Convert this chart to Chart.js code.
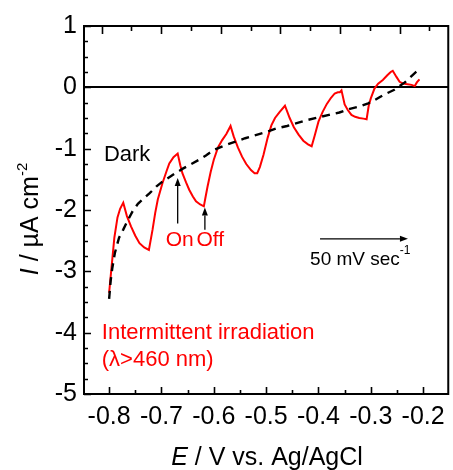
<!DOCTYPE html>
<html>
<head>
<meta charset="utf-8">
<style>
  html, body { margin: 0; padding: 0; background: #fff; }
  #wrap { width: 453px; height: 470px; }
</style>
</head>
<body>
<div id="wrap"><canvas id="cv" width="453" height="470"></canvas></div>
<script src="https://cdn.jsdelivr.net/npm/chart.js@4.4.1/dist/chart.umd.min.js"></script>
<script>
// dark scan (dashed black)
const darkE = [-0.800, -0.797, -0.794, -0.789, -0.781, -0.773, -0.765, -0.755, -0.745, -0.735, -0.723, -0.710,
  -0.700, -0.691, -0.675, -0.660, -0.645, -0.628, -0.615, -0.600, -0.580, -0.560, -0.540, -0.520, -0.500,
  -0.480, -0.460, -0.440, -0.420, -0.400, -0.380, -0.360, -0.340, -0.320, -0.305, -0.295, -0.285, -0.275,
  -0.265, -0.255, -0.245, -0.235, -0.225, -0.215, -0.207];
const darkI = [-3.45, -3.15, -2.95, -2.70, -2.45, -2.32, -2.18, -2.02, -1.90, -1.82, -1.73, -1.62,
  -1.55, -1.50, -1.41, -1.33, -1.26, -1.18, -1.11, -1.02, -0.95, -0.89, -0.83, -0.78, -0.73,
  -0.67, -0.63, -0.58, -0.53, -0.49, -0.45, -0.41, -0.35, -0.31, -0.26, -0.22, -0.17, -0.12,
  -0.08, -0.04, 0.02, 0.08, 0.16, 0.24, 0.29];

// chopped light scan (red)
const lightE = [-0.800, -0.795, -0.790, -0.784, -0.779, -0.773, -0.766, -0.758, -0.750, -0.742, -0.733, -0.724,
  -0.717, -0.712, -0.707, -0.698, -0.690, -0.685, -0.677, -0.669,
  -0.664, -0.660, -0.653, -0.647, -0.640, -0.634, -0.626, -0.619,
  -0.616, -0.612, -0.606, -0.600, -0.592, -0.584, -0.576, -0.568,
  -0.562, -0.554, -0.546, -0.538, -0.529, -0.522, -0.517,
  -0.512, -0.505, -0.497, -0.490, -0.483, -0.474, -0.464,
  -0.455, -0.447, -0.438, -0.429, -0.420, -0.413,
  -0.407, -0.400, -0.392, -0.384, -0.376, -0.369, -0.363, -0.359, -0.356,
  -0.350, -0.344, -0.337, -0.330, -0.322, -0.314, -0.308,
  -0.304, -0.300, -0.293, -0.286, -0.277, -0.268, -0.262, -0.258,
  -0.251, -0.245, -0.238, -0.230, -0.222, -0.216, -0.212, -0.207];
const lightI = [-3.35, -2.90, -2.45, -2.12, -1.98, -1.88, -2.10, -2.27, -2.42, -2.54, -2.61, -2.65,
  -2.32, -2.05, -1.83, -1.56, -1.36, -1.24, -1.14, -1.08,
  -1.27, -1.40, -1.55, -1.67, -1.78, -1.86, -1.91, -1.94,
  -1.80, -1.62, -1.38, -1.18, -0.98, -0.86, -0.76, -0.63,
  -0.80, -0.98, -1.13, -1.25, -1.35, -1.40, -1.40,
  -1.30, -1.10, -0.82, -0.62, -0.50, -0.40, -0.30,
  -0.50, -0.65, -0.77, -0.87, -0.93, -0.96,
  -0.78, -0.56, -0.40, -0.27, -0.17, -0.10, -0.08, -0.08, -0.05,
  -0.28, -0.37, -0.45, -0.48, -0.50, -0.51, -0.52,
  -0.30, -0.18, -0.02, 0.06, 0.12, 0.20, 0.25, 0.27,
  0.17, 0.09, 0.06, 0.05, 0.04, 0.02, 0.08, 0.13];

const xTicks = [-0.8, -0.7, -0.6, -0.5, -0.4, -0.3, -0.2];
const yTicks = [1, 0, -1, -2, -3, -4, -5];
const topTicks = [0, 1, 2, 3, 4, 5, 6, 7, 8, 9, 10, 11];

const FONT = '"Liberation Sans", Arial, sans-serif';

function fixTicks(values) {
  return scale => { scale.ticks = values.map(v => ({ value: v })); };
}

const framePlugin = {
  id: 'frame',
  afterDraw(chart) {
    const ctx = chart.ctx;
    const a = chart.chartArea;
    const sx = chart.scales.x, sy = chart.scales.y, st = chart.scales.top;
    ctx.save();
    ctx.strokeStyle = '#000';
    ctx.lineWidth = 2;
    ctx.strokeRect(a.left, a.top, a.right - a.left, a.bottom - a.top);

    ctx.lineWidth = 1.6;
    ctx.beginPath();
    xTicks.forEach(v => {
      const p = Math.round(sx.getPixelForValue(v)) + 0.5;
      ctx.moveTo(p, a.bottom); ctx.lineTo(p, a.bottom - 7);
      const m = Math.round(sx.getPixelForValue(v + 0.05)) + 0.5;
      if (v < -0.2) { ctx.moveTo(m, a.bottom); ctx.lineTo(m, a.bottom - 4); }
    });
    yTicks.forEach(v => {
      const p = Math.round(sy.getPixelForValue(v)) + 0.5;
      ctx.moveTo(a.left, p); ctx.lineTo(a.left + 7, p);
      if (v > -5) {
        [0.25, 0.5, 0.75].forEach(f => {
          const m = Math.round(sy.getPixelForValue(v - f)) + 0.5;
          ctx.moveTo(a.left, m); ctx.lineTo(a.left + 4, m);
        });
      }
    });
    topTicks.forEach(v => {
      const p = Math.round(st.getPixelForValue(v)) + 0.5;
      ctx.moveTo(p, a.top); ctx.lineTo(p, a.top + (v % 2 === 0 ? 8 : 5));
    });
    ctx.stroke();

    // axis titles
    ctx.fillStyle = '#000';
    ctx.textBaseline = 'alphabetic';
    const it = 'italic 25px ' + FONT, rg = '25px ' + FONT, sup = '15px ' + FONT;
    ctx.font = it; const wE = ctx.measureText('E').width;
    ctx.font = rg; const wR = ctx.measureText(' / V vs. Ag/AgCl').width;
    let x0 = 267 - (wE + wR) / 2;
    ctx.font = it; ctx.fillText('E', x0, 465);
    ctx.font = rg; ctx.fillText(' / V vs. Ag/AgCl', x0 + wE, 465);

    ctx.save();
    ctx.translate(38, 219);
    ctx.rotate(-Math.PI / 2);
    ctx.font = it; const wI = ctx.measureText('I').width;
    ctx.font = rg; const wU = ctx.measureText(' / µA cm').width;
    ctx.font = sup; const wS = ctx.measureText('-2').width;
    let y0 = -(wI + wU + wS) / 2;
    ctx.font = it; ctx.fillText('I', y0, 0);
    ctx.font = rg; ctx.fillText(' / µA cm', y0 + wI, 0);
    ctx.font = sup; ctx.fillText('-2', y0 + wI + wU, -11);
    ctx.restore();

    // annotations
    const X = v => sx.getPixelForValue(v), Y = v => sy.getPixelForValue(v);
    ctx.textBaseline = 'middle';
    ctx.font = '22px ' + FONT;
    ctx.fillText('Dark', X(-0.810), Y(-1.10));
    ctx.fillStyle = '#ff0000';
    ctx.font = '21px ' + FONT;
    ctx.fillText('On', X(-0.692), Y(-2.49));
    ctx.fillText('Off', X(-0.633), Y(-2.49));
    ctx.font = '22px ' + FONT;
    ctx.fillText('Intermittent irradiation', X(-0.814), Y(-4.00));
    ctx.fillText('(λ>460 nm)', X(-0.814), Y(-4.44));

    ctx.fillStyle = '#000';
    ctx.font = '19px ' + FONT;
    const t50 = '50 mV sec';
    const w50 = ctx.measureText(t50).width;
    ctx.fillText(t50, X(-0.416), Y(-2.81));
    ctx.font = '12px ' + FONT;
    ctx.fillText('-1', X(-0.416) + w50, Y(-2.81) - 9);

    arrow(ctx, X(-0.669), Y(-2.22), X(-0.669), Y(-1.48));
    arrow(ctx, X(-0.617), Y(-2.32), X(-0.617), Y(-1.96));
    arrow(ctx, X(-0.397), Y(-2.47), X(-0.229), Y(-2.47));
    ctx.restore();
  }
};

function arrow(ctx, x1, y1, x2, y2) {
  const ang = Math.atan2(y2 - y1, x2 - x1), L = 8, W = 3;
  ctx.strokeStyle = '#000';
  ctx.lineWidth = 1.3;
  ctx.beginPath();
  ctx.moveTo(x1, y1);
  ctx.lineTo(x2 - L * Math.cos(ang), y2 - L * Math.sin(ang));
  ctx.stroke();
  ctx.beginPath();
  ctx.moveTo(x2, y2);
  ctx.lineTo(x2 - L * Math.cos(ang) + W * Math.sin(ang), y2 - L * Math.sin(ang) - W * Math.cos(ang));
  ctx.lineTo(x2 - L * Math.cos(ang) - W * Math.sin(ang), y2 - L * Math.sin(ang) + W * Math.cos(ang));
  ctx.closePath();
  ctx.fillStyle = '#000';
  ctx.fill();
}

new Chart(document.getElementById('cv'), {
  type: 'line',
  data: {
    datasets: [
      {
        label: 'Dark',
        data: darkE.map((e, i) => ({ x: e, y: darkI[i] })),
        borderColor: '#000',
        borderWidth: 2.4,
        borderDash: [8, 6],
        pointRadius: 0,
        fill: false
      },
      {
        label: 'Intermittent irradiation',
        data: lightE.map((e, i) => ({ x: e, y: lightI[i] })),
        borderColor: '#ff0000',
        borderWidth: 2,
        pointRadius: 0,
        fill: false
      }
    ]
  },
  options: {
    responsive: false,
    animation: false,
    devicePixelRatio: 1,
    layout: { padding: { left: 0, right: 2, top: 0, bottom: 0 } },
    plugins: { legend: { display: false }, tooltip: { enabled: false } },
    scales: {
      x: {
        type: 'linear',
        position: 'bottom',
        min: -0.848,
        max: -0.152,
        afterBuildTicks: fixTicks(xTicks),
        afterFit: s => { s.height = 76; },
        border: { display: false },
        grid: { display: false, drawTicks: false },
        ticks: { padding: 8, color: '#000', font: { family: FONT, size: 25 }, maxRotation: 0, autoSkip: false,
          callback: v => v.toFixed(1) }
      },
      top: {
        type: 'linear',
        position: 'top',
        min: -0.59,
        max: 11.63,
        afterBuildTicks: fixTicks(topTicks),
        afterFit: s => { s.height = 26; },
        border: { display: false },
        grid: { display: false, drawTicks: false },
        ticks: { display: false }
      },
      y: {
        type: 'linear',
        min: -5,
        max: 1,
        afterBuildTicks: fixTicks(yTicks),
        afterFit: s => { s.width = 84; },
        border: { display: false },
        grid: {
          drawTicks: false,
          color: c => (c.tick && c.tick.value === 0 ? '#000' : 'rgba(0,0,0,0)'),
          lineWidth: 2
        },
        ticks: { padding: 7, color: '#000', font: { family: FONT, size: 25 }, autoSkip: false,
          callback: v => String(v) }
      }
    }
  },
  plugins: [framePlugin]
});
</script>
</body>
</html>
